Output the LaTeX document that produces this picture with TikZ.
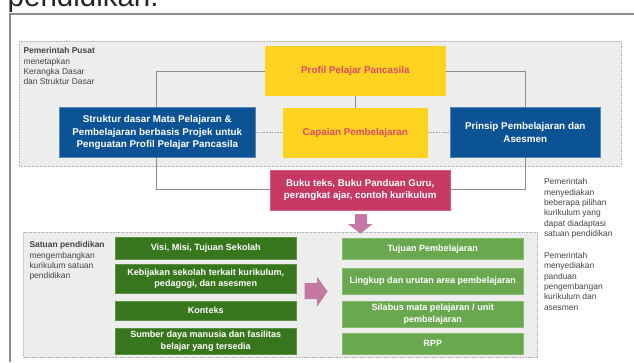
\documentclass[tikz,border=0pt]{standalone}
\usepackage{fontspec}
\setmainfont{Liberation Sans}
\usetikzlibrary{calc}
\pgfdeclarelayer{panel}\pgfdeclarelayer{lines}
\pgfsetlayers{panel,lines,main}
\definecolor{ybox}{HTML}{FFD320}
\definecolor{bbox}{HTML}{0B5394}
\definecolor{cbox}{HTML}{C73864}
\definecolor{dgreen}{HTML}{38761D}
\definecolor{lgreen}{HTML}{6AA84F}
\definecolor{pnl}{HTML}{EDEDED}
\definecolor{pinka}{HTML}{C678A4}
\definecolor{txt}{HTML}{434343}
\definecolor{ylab}{HTML}{DF4A66}
\newcommand{\fbig}{\fontsize{9.85}{12.3}\selectfont}
\newcommand{\fmid}{\fontsize{9.7}{12.3}\selectfont}
\newcommand{\fsm}{\fontsize{9.05}{11.8}\selectfont}
\tikzset{x=1pt,y=-1pt,
 boxbase/.style={inner sep=0pt,outer sep=0pt,align=center,font=\fsm\bfseries},
 bluebox/.style={boxbase,fill=bbox,draw=bbox!70!white,line width=.6pt,text=white,font=\fbig\bfseries},
 yellowbox/.style={boxbase,fill=ybox,text=ylab,font=\fbig\bfseries},
 crimson/.style={boxbase,fill=cbox,text=white,draw=cbox!80!white,line width=.6pt,font=\fmid\bfseries},
 dgbox/.style={boxbase,fill=dgreen,text=white,draw=dgreen!80!white,line width=.6pt},
 lgbox/.style={boxbase,fill=lgreen,text=white,draw=lgreen!80!white,line width=.6pt},
 panelbox/.style={fill=pnl,draw=black!30,densely dotted,line width=.6pt,inner sep=0pt,outer sep=0pt},
 conn/.style={draw=black!45,line width=1pt},
 dotconn/.style={draw=black!35,line width=1pt,dash pattern=on 1.6pt off 1.2pt},
 note/.style={inner sep=0pt,outer sep=0pt,anchor=north west,align=left,text=txt,font=\fontsize{8.45}{10.45}\selectfont},
 pinkarrow/.style={fill=pinka,draw=none}
}
\newcommand{\rbox}[6]{%
 \node[#1,minimum width=#5pt-#3pt,minimum height=#6pt-#4pt] (#2) at ({(#3+#5)/2},{(#4+#6)/2})}
\begin{document}
\begin{tikzpicture}
\useasboundingbox (0,0) rectangle (634,362);
\begin{pgfonlayer}{panel}
\fill[white] (0,0) rectangle (634,362);
\node[panelbox,minimum width=602pt,minimum height=124.7pt] (p1) at (320,103.6) {};
\node[panelbox,minimum width=514.2pt,minimum height=125.4pt] (p2) at (280.6,295) {};
\end{pgfonlayer}
\begin{scope}
\clip (0,0) rectangle (634,362);
\node[inner sep=0pt,anchor=base west,font=\fontsize{29.5}{29.5}\selectfont,text=black!85] (ttl) at (7.5,6) {pendidikan.};
\end{scope}
\coordinate (fa) at (10.3,362);
\coordinate (fb) at (10.3,13.5);
\coordinate (fc) at (634,13.5);
\draw[draw=black!45,line width=2pt] (fa) -- (fb) -- (fc);
\rbox{yellowbox}{prof}{265}{46}{445.6}{96} {Profil Pelajar Pancasila};
\rbox{yellowbox}{cap}{283}{107.5}{427.6}{157.5} {Capaian Pembelajaran};
\rbox{bluebox}{stru}{59.5}{107.5}{255}{157.5} {Struktur dasar Mata Pelajaran \&\\Pembelajaran berbasis Projek untuk\\Penguatan Profil Pelajar Pancasila};
\rbox{bluebox}{prin}{450.3}{107.5}{600.3}{157.5} {Prinsip Pembelajaran dan\\Asesmen};
\rbox{crimson}{buku}{270}{170}{450.5}{210.5} {Buku teks, Buku Panduan Guru,\\perangkat ajar, contoh kurikulum};
\rbox{dgbox}{d1}{115.5}{237.5}{296}{259} {Visi, Misi, Tujuan Sekolah};
\rbox{dgbox}{d2}{115.5}{264}{296}{293.5} {Kebijakan sekolah terkait kurikulum,\\pedagogi, dan asesmen};
\rbox{dgbox}{d3}{115.5}{301}{296}{320} {Konteks};
\rbox{dgbox}{d4}{115.5}{328}{296}{354} {Sumber daya manusia dan fasilitas\\belajar yang tersedia};
\rbox{lgbox}{l1}{342.5}{238}{523}{259.5} {Tujuan Pembelajaran};
\rbox{lgbox}{l2}{342.5}{268}{523}{294} {Lingkup dan urutan area pembelajaran};
\rbox{lgbox}{l3}{342.5}{301.5}{523}{327.5} {Silabus mata pelajaran / unit\\pembelajaran};
\rbox{lgbox}{l4}{342.5}{333}{523}{354.5} {RPP};
\begin{pgfonlayer}{lines}
\draw[conn] (prof.west) -- (156.5,71) -- (156.5,189.5) -- (buku.west |- 0,189.5);
\draw[conn] (prof.east) -- (525,71) -- (525,189.5) -- (buku.east |- 0,189.5);
\draw[conn] (prof.south -| cap.north) -- (cap.north);
\draw[dotconn] (stru.east) -- (cap.west);
\draw[dotconn] (cap.east) -- (prin.west);
\end{pgfonlayer}
\node[note] (n1) at (23.5,47.5) {\textbf{Pemerintah Pusat}\\menetapkan\\Kerangka Dasar\\dan Struktur Dasar};
\node[note] (n2) at (29.5,241.5) {\textbf{Satuan pendidikan}\\mengembangkan\\kurikulum satuan\\pendidikan};
\node[note] (n3) at (544,178.5) {Pemerintah\\menyediakan\\beberapa pilihan\\kurikulum yang\\dapat diadaptasi\\satuan pendidikan};
\node[note] (n4) at (544,252) {Pemerintah\\menyediakan\\panduan\\pengembangan\\kurikulum dan\\asesmen};
\fill[pinkarrow] (355,214) -- (367,214) -- (367,224) -- (372.7,224) -- (360.5,233.5) -- (348,224) -- (355,224) -- cycle;
\fill[pinkarrow] (304.5,283) -- (317,283) -- (317,276.7) -- (327.5,291.5) -- (317,306.7) -- (317,299) -- (304.5,299) -- cycle;
\end{tikzpicture}
\end{document}
